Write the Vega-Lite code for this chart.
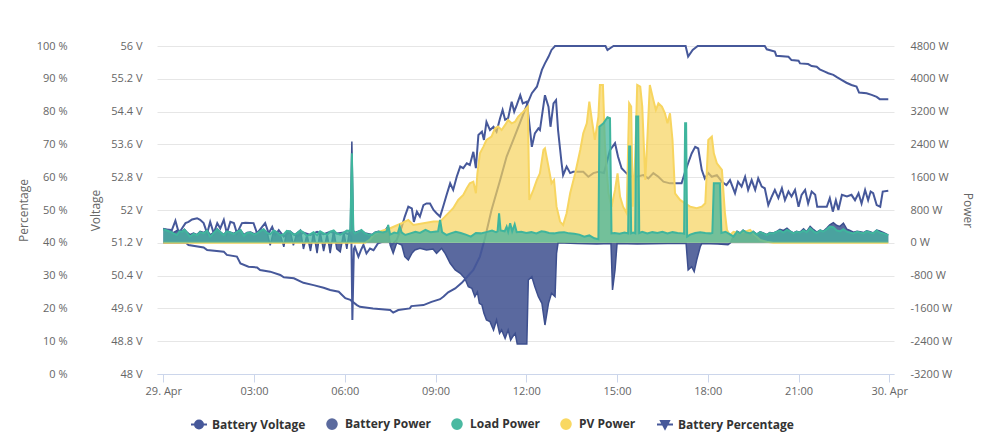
{
"$schema":"https://vega.github.io/schema/vega-lite/v6.json",
"width":737,"height":328,
"autosize":{"type":"none"},
"padding":{"left":157,"top":46,"right":87,"bottom":71},
"background":"white",
"config":{"view":{"stroke":null},"font":"Open Sans","axis":{"labelFont":"Open Sans","labelFontSize":11,"labelColor":"#666666","titleFont":"Open Sans","titleFontSize":12,"titleFontWeight":"normal","titleColor":"#666666","grid":false,"domain":false,"ticks":false,"tickSize":0}},
"datasets":{
"volt":[
{"t":"2024-04-29T00:00","v":51.53},{"t":"2024-04-29T00:17","v":51.51},{"t":"2024-04-29T00:24","v":51.74},{"t":"2024-04-29T00:31","v":51.43},{"t":"2024-04-29T00:37","v":51.55},{"t":"2024-04-29T00:44","v":51.68},{"t":"2024-04-29T00:50","v":51.71},{"t":"2024-04-29T00:57","v":51.77},{"t":"2024-04-29T01:07","v":51.80},{"t":"2024-04-29T01:13","v":51.76},{"t":"2024-04-29T01:20","v":51.68},{"t":"2024-04-29T01:27","v":51.43},{"t":"2024-04-29T01:33","v":51.71},{"t":"2024-04-29T01:40","v":51.43},{"t":"2024-04-29T01:47","v":51.68},{"t":"2024-04-29T01:53","v":51.55},{"t":"2024-04-29T02:00","v":51.76},{"t":"2024-04-29T02:06","v":51.43},{"t":"2024-04-29T02:13","v":51.71},{"t":"2024-04-29T02:20","v":51.68},{"t":"2024-04-29T02:26","v":51.43},{"t":"2024-04-29T02:36","v":51.68},{"t":"2024-04-29T02:43","v":51.69},{"t":"2024-04-29T02:59","v":51.68},{"t":"2024-04-29T03:06","v":51.43},{"t":"2024-04-29T03:16","v":51.59},{"t":"2024-04-29T03:22","v":51.68},{"t":"2024-04-29T03:29","v":51.43},{"t":"2024-04-29T03:36","v":51.59},{"t":"2024-04-29T03:42","v":51.39},{"t":"2024-04-29T03:49","v":51.51},{"t":"2024-04-29T03:59","v":51.35},{"t":"2024-04-29T04:12","v":51.47},{"t":"2024-04-29T04:25","v":51.35},{"t":"2024-04-29T04:38","v":51.45},{"t":"2024-04-29T04:52","v":51.39},{"t":"2024-04-29T05:05","v":51.47},{"t":"2024-04-29T05:18","v":51.41},{"t":"2024-04-29T05:31","v":51.47},{"t":"2024-04-29T05:44","v":51.43},{"t":"2024-04-29T05:58","v":51.45},{"t":"2024-04-29T06:08","v":51.41},{"t":"2024-04-29T06:13","v":51.35},{"t":"2024-04-29T06:15","v":49.32},{"t":"2024-04-29T06:18","v":51.05},{"t":"2024-04-29T06:20","v":51.10},{"t":"2024-04-29T06:27","v":50.86},{"t":"2024-04-29T06:32","v":51.02},{"t":"2024-04-29T06:37","v":51.15},{"t":"2024-04-29T06:43","v":50.94},{"t":"2024-04-29T06:50","v":51.06},{"t":"2024-04-29T06:57","v":51.02},{"t":"2024-04-29T07:06","v":51.19},{"t":"2024-04-29T07:16","v":51.23},{"t":"2024-04-29T07:26","v":51.27},{"t":"2024-04-29T07:33","v":51.15},{"t":"2024-04-29T07:43","v":51.27},{"t":"2024-04-29T07:53","v":51.59},{"t":"2024-04-29T07:59","v":51.84},{"t":"2024-04-29T08:06","v":52.08},{"t":"2024-04-29T08:13","v":52.04},{"t":"2024-04-29T08:17","v":51.71},{"t":"2024-04-29T08:23","v":51.96},{"t":"2024-04-29T08:29","v":51.84},{"t":"2024-04-29T08:36","v":52.12},{"t":"2024-04-29T08:42","v":52.16},{"t":"2024-04-29T08:49","v":52.16},{"t":"2024-04-29T08:56","v":52.00},{"t":"2024-04-29T09:02","v":51.92},{"t":"2024-04-29T09:09","v":51.84},{"t":"2024-04-29T09:15","v":52.08},{"t":"2024-04-29T09:22","v":52.37},{"t":"2024-04-29T09:29","v":52.65},{"t":"2024-04-29T09:35","v":52.49},{"t":"2024-04-29T09:42","v":52.81},{"t":"2024-04-29T09:49","v":53.06},{"t":"2024-04-29T09:55","v":53.02},{"t":"2024-04-29T10:02","v":53.14},{"t":"2024-04-29T10:08","v":53.10},{"t":"2024-04-29T10:15","v":53.42},{"t":"2024-04-29T10:20","v":53.02},{"t":"2024-04-29T10:25","v":53.83},{"t":"2024-04-29T10:32","v":53.91},{"t":"2024-04-29T10:36","v":53.71},{"t":"2024-04-29T10:41","v":54.15},{"t":"2024-04-29T10:48","v":53.95},{"t":"2024-04-29T10:55","v":54.03},{"t":"2024-04-29T11:01","v":53.91},{"t":"2024-04-29T11:08","v":54.24},{"t":"2024-04-29T11:13","v":54.44},{"t":"2024-04-29T11:18","v":54.20},{"t":"2024-04-29T11:24","v":54.24},{"t":"2024-04-29T11:31","v":54.64},{"t":"2024-04-29T11:36","v":54.40},{"t":"2024-04-29T11:41","v":54.56},{"t":"2024-04-29T11:48","v":54.80},{"t":"2024-04-29T11:53","v":54.60},{"t":"2024-04-29T12:01","v":54.64},{"t":"2024-04-29T12:06","v":54.11},{"t":"2024-04-29T12:11","v":53.54},{"t":"2024-04-29T12:17","v":53.87},{"t":"2024-04-29T12:24","v":53.99},{"t":"2024-04-29T12:27","v":53.95},{"t":"2024-04-29T12:37","v":54.80},{"t":"2024-04-29T12:44","v":54.52},{"t":"2024-04-29T12:48","v":54.03},{"t":"2024-04-29T12:54","v":54.60},{"t":"2024-04-29T12:59","v":54.68},{"t":"2024-04-29T13:03","v":53.95},{"t":"2024-04-29T13:10","v":53.14},{"t":"2024-04-29T13:13","v":52.85},{"t":"2024-04-29T13:20","v":53.06},{"t":"2024-04-29T13:27","v":52.90},{"t":"2024-04-29T13:33","v":52.93},{"t":"2024-04-29T13:40","v":52.93},{"t":"2024-04-29T13:53","v":52.93},{"t":"2024-04-29T14:03","v":52.81},{"t":"2024-04-29T14:13","v":52.90},{"t":"2024-04-29T14:23","v":52.93},{"t":"2024-04-29T14:34","v":52.90},{"t":"2024-04-29T14:46","v":53.46},{"t":"2024-04-29T14:56","v":53.63},{"t":"2024-04-29T15:02","v":53.30},{"t":"2024-04-29T15:09","v":53.02},{"t":"2024-04-29T15:16","v":52.93},{"t":"2024-04-29T15:26","v":52.81},{"t":"2024-04-29T15:39","v":52.81},{"t":"2024-04-29T15:52","v":52.85},{"t":"2024-04-29T16:02","v":52.77},{"t":"2024-04-29T16:12","v":52.90},{"t":"2024-04-29T16:22","v":52.81},{"t":"2024-04-29T16:32","v":52.69},{"t":"2024-04-29T16:45","v":52.65},{"t":"2024-04-29T16:58","v":52.65},{"t":"2024-04-29T17:08","v":52.65},{"t":"2024-04-29T17:15","v":52.93},{"t":"2024-04-29T17:21","v":53.14},{"t":"2024-04-29T17:28","v":53.38},{"t":"2024-04-29T17:35","v":53.54},{"t":"2024-04-29T17:41","v":53.50},{"t":"2024-04-29T17:48","v":52.98},{"t":"2024-04-29T17:54","v":52.77},{"t":"2024-04-29T18:01","v":52.90},{"t":"2024-04-29T18:08","v":52.81},{"t":"2024-04-29T18:18","v":52.85},{"t":"2024-04-29T18:28","v":52.69},{"t":"2024-04-29T18:37","v":52.61},{"t":"2024-04-29T18:44","v":52.73},{"t":"2024-04-29T18:54","v":52.41},{"t":"2024-04-29T19:00","v":52.69},{"t":"2024-04-29T19:07","v":52.57},{"t":"2024-04-29T19:14","v":52.81},{"t":"2024-04-29T19:20","v":52.49},{"t":"2024-04-29T19:27","v":52.73},{"t":"2024-04-29T19:34","v":52.49},{"t":"2024-04-29T19:40","v":52.77},{"t":"2024-04-29T19:47","v":52.57},{"t":"2024-04-29T19:53","v":52.53},{"t":"2024-04-29T20:00","v":52.12},{"t":"2024-04-29T20:07","v":52.33},{"t":"2024-04-29T20:13","v":52.49},{"t":"2024-04-29T20:20","v":52.29},{"t":"2024-04-29T20:27","v":52.53},{"t":"2024-04-29T20:33","v":52.24},{"t":"2024-04-29T20:40","v":52.45},{"t":"2024-04-29T20:46","v":52.33},{"t":"2024-04-29T20:53","v":52.49},{"t":"2024-04-29T21:00","v":52.08},{"t":"2024-04-29T21:06","v":52.37},{"t":"2024-04-29T21:13","v":52.49},{"t":"2024-04-29T21:19","v":52.16},{"t":"2024-04-29T21:26","v":52.45},{"t":"2024-04-29T21:33","v":52.37},{"t":"2024-04-29T21:37","v":52.08},{"t":"2024-04-29T21:56","v":52.08},{"t":"2024-04-29T22:02","v":52.29},{"t":"2024-04-29T22:08","v":51.96},{"t":"2024-04-29T22:14","v":52.24},{"t":"2024-04-29T22:19","v":52.00},{"t":"2024-04-29T22:26","v":52.37},{"t":"2024-04-29T22:36","v":52.33},{"t":"2024-04-29T22:45","v":52.37},{"t":"2024-04-29T22:52","v":52.24},{"t":"2024-04-29T22:59","v":52.41},{"t":"2024-04-29T23:05","v":52.16},{"t":"2024-04-29T23:12","v":52.49},{"t":"2024-04-29T23:18","v":52.24},{"t":"2024-04-29T23:23","v":52.45},{"t":"2024-04-29T23:28","v":52.41},{"t":"2024-04-29T23:35","v":52.12},{"t":"2024-04-29T23:42","v":52.08},{"t":"2024-04-29T23:47","v":52.45},{"t":"2024-04-29T23:58","v":52.47}
],
"pct":[
{"t":"2024-04-29T00:00","v":40},{"t":"2024-04-29T00:45","v":40},{"t":"2024-04-29T00:50","v":39.3},{"t":"2024-04-29T01:20","v":38.6},{"t":"2024-04-29T01:27","v":37.8},{"t":"2024-04-29T02:00","v":37.3},{"t":"2024-04-29T02:06","v":36.3},{"t":"2024-04-29T02:26","v":35.8},{"t":"2024-04-29T02:33","v":33.7},{"t":"2024-04-29T02:49","v":32.7},{"t":"2024-04-29T03:06","v":32.5},{"t":"2024-04-29T03:12","v":31.7},{"t":"2024-04-29T03:32","v":31.2},{"t":"2024-04-29T03:52","v":30.2},{"t":"2024-04-29T03:59","v":29.5},{"t":"2024-04-29T04:19","v":29.2},{"t":"2024-04-29T04:38","v":27.8},{"t":"2024-04-29T04:58","v":27.1},{"t":"2024-04-29T05:18","v":26.3},{"t":"2024-04-29T05:31","v":25.6},{"t":"2024-04-29T05:48","v":25.1},{"t":"2024-04-29T06:01","v":23.1},{"t":"2024-04-29T06:11","v":22.6},{"t":"2024-04-29T06:24","v":21},{"t":"2024-04-29T06:30","v":20.5},{"t":"2024-04-29T06:56","v":20},{"t":"2024-04-29T07:30","v":19.5},{"t":"2024-04-29T07:36","v":18.7},{"t":"2024-04-29T07:46","v":19.5},{"t":"2024-04-29T08:09","v":20},{"t":"2024-04-29T08:12","v":20.7},{"t":"2024-04-29T08:36","v":21},{"t":"2024-04-29T08:52","v":22},{"t":"2024-04-29T09:09","v":22.8},{"t":"2024-04-29T09:16","v":23.6},{"t":"2024-04-29T09:25","v":24.9},{"t":"2024-04-29T09:39","v":26.1},{"t":"2024-04-29T09:52","v":27.8},{"t":"2024-04-29T10:02","v":29.5},{"t":"2024-04-29T10:15","v":31.7},{"t":"2024-04-29T10:28","v":35.8},{"t":"2024-04-29T10:38","v":41.4},{"t":"2024-04-29T10:51","v":50},{"t":"2024-04-29T11:08","v":59.1},{"t":"2024-04-29T11:21","v":66.3},{"t":"2024-04-29T11:34","v":71.3},{"t":"2024-04-29T11:47","v":76.4},{"t":"2024-04-29T12:01","v":82},{"t":"2024-04-29T12:11","v":85.6},{"t":"2024-04-29T12:21","v":87.6},{"t":"2024-04-29T12:31","v":92.7},{"t":"2024-04-29T12:37","v":94.7},{"t":"2024-04-29T12:44","v":96.7},{"t":"2024-04-29T12:50","v":98.8},{"t":"2024-04-29T12:57","v":100},{"t":"2024-04-29T14:37","v":100},{"t":"2024-04-29T14:41","v":98.8},{"t":"2024-04-29T14:47","v":99.4},{"t":"2024-04-29T14:53","v":100},{"t":"2024-04-29T17:16","v":100},{"t":"2024-04-29T17:21","v":96.8},{"t":"2024-04-29T17:30","v":98.8},{"t":"2024-04-29T17:40","v":100},{"t":"2024-04-29T19:53","v":100},{"t":"2024-04-29T19:57","v":99},{"t":"2024-04-29T20:13","v":98.3},{"t":"2024-04-29T20:16","v":97},{"t":"2024-04-29T20:40","v":96.7},{"t":"2024-04-29T20:46","v":95.7},{"t":"2024-04-29T21:00","v":95.5},{"t":"2024-04-29T21:03","v":94.7},{"t":"2024-04-29T21:19","v":94.5},{"t":"2024-04-29T21:26","v":93.9},{"t":"2024-04-29T21:36","v":93.7},{"t":"2024-04-29T21:42","v":92.9},{"t":"2024-04-29T21:52","v":92.2},{"t":"2024-04-29T21:59","v":91.7},{"t":"2024-04-29T22:09","v":91.2},{"t":"2024-04-29T22:16","v":90.5},{"t":"2024-04-29T22:26","v":89.6},{"t":"2024-04-29T22:35","v":88.8},{"t":"2024-04-29T22:45","v":88.1},{"t":"2024-04-29T22:55","v":87.6},{"t":"2024-04-29T23:00","v":85.8},{"t":"2024-04-29T23:15","v":85.6},{"t":"2024-04-29T23:25","v":85.1},{"t":"2024-04-29T23:35","v":84.5},{"t":"2024-04-29T23:41","v":83.8},{"t":"2024-04-29T23:58","v":83.8}
],
"batt":[
{"t":"2024-04-29T00:00","v":350},{"t":"2024-04-29T00:07","v":320},{"t":"2024-04-29T00:14","v":280},{"t":"2024-04-29T00:20","v":250},{"t":"2024-04-29T00:27","v":300},{"t":"2024-04-29T00:32","v":300},{"t":"2024-04-29T00:37","v":280},{"t":"2024-04-29T00:42","v":330},{"t":"2024-04-29T00:47","v":260},{"t":"2024-04-29T00:53","v":200},{"t":"2024-04-29T01:00","v":240},{"t":"2024-04-29T01:07","v":200},{"t":"2024-04-29T01:13","v":280},{"t":"2024-04-29T01:20","v":250},{"t":"2024-04-29T01:27","v":310},{"t":"2024-04-29T01:33","v":200},{"t":"2024-04-29T01:40","v":250},{"t":"2024-04-29T01:47","v":340},{"t":"2024-04-29T01:53","v":270},{"t":"2024-04-29T02:00","v":200},{"t":"2024-04-29T02:06","v":290},{"t":"2024-04-29T02:13","v":260},{"t":"2024-04-29T02:20","v":230},{"t":"2024-04-29T02:26","v":280},{"t":"2024-04-29T02:33","v":320},{"t":"2024-04-29T02:40","v":200},{"t":"2024-04-29T02:46","v":250},{"t":"2024-04-29T02:53","v":260},{"t":"2024-04-29T03:00","v":220},{"t":"2024-04-29T03:06","v":240},{"t":"2024-04-29T03:13","v":300},{"t":"2024-04-29T03:19","v":330},{"t":"2024-04-29T03:26","v":250},{"t":"2024-04-29T03:32","v":-60},{"t":"2024-04-29T03:39","v":300},{"t":"2024-04-29T03:46","v":260},{"t":"2024-04-29T03:52","v":200},{"t":"2024-04-29T03:59","v":-100},{"t":"2024-04-29T04:05","v":290},{"t":"2024-04-29T04:12","v":280},{"t":"2024-04-29T04:18","v":-60},{"t":"2024-04-29T04:25","v":240},{"t":"2024-04-29T04:32","v":310},{"t":"2024-04-29T04:38","v":-150},{"t":"2024-04-29T04:45","v":200},{"t":"2024-04-29T04:52","v":-200},{"t":"2024-04-29T04:58","v":260},{"t":"2024-04-29T05:05","v":-250},{"t":"2024-04-29T05:11","v":280},{"t":"2024-04-29T05:18","v":-200},{"t":"2024-04-29T05:25","v":210},{"t":"2024-04-29T05:31","v":-250},{"t":"2024-04-29T05:38","v":310},{"t":"2024-04-29T05:44","v":-150},{"t":"2024-04-29T05:51","v":-220},{"t":"2024-04-29T05:58","v":260},{"t":"2024-04-29T06:04","v":-150},{"t":"2024-04-29T06:09","v":280},{"t":"2024-04-29T06:11","v":320},{"t":"2024-04-29T06:14","v":2468},{"t":"2024-04-29T06:17","v":300},{"t":"2024-04-29T06:20","v":250},{"t":"2024-04-29T06:27","v":280},{"t":"2024-04-29T06:33","v":300},{"t":"2024-04-29T06:40","v":240},{"t":"2024-04-29T06:47","v":220},{"t":"2024-04-29T06:54","v":200},{"t":"2024-04-29T07:00","v":260},{"t":"2024-04-29T07:07","v":280},{"t":"2024-04-29T07:16","v":250},{"t":"2024-04-29T07:26","v":400},{"t":"2024-04-29T07:30","v":-54},{"t":"2024-04-29T07:36","v":-257},{"t":"2024-04-29T07:43","v":0},{"t":"2024-04-29T07:53","v":-54},{"t":"2024-04-29T07:59","v":-339},{"t":"2024-04-29T08:06","v":-420},{"t":"2024-04-29T08:13","v":-257},{"t":"2024-04-29T08:19","v":-175},{"t":"2024-04-29T08:29","v":-135},{"t":"2024-04-29T08:42","v":-175},{"t":"2024-04-29T08:55","v":-150},{"t":"2024-04-29T09:02","v":-257},{"t":"2024-04-29T09:12","v":-135},{"t":"2024-04-29T09:19","v":-257},{"t":"2024-04-29T09:29","v":-500},{"t":"2024-04-29T09:39","v":-663},{"t":"2024-04-29T09:49","v":-744},{"t":"2024-04-29T09:58","v":-866},{"t":"2024-04-29T10:05","v":-1070},{"t":"2024-04-29T10:12","v":-1110},{"t":"2024-04-29T10:18","v":-1313},{"t":"2024-04-29T10:23","v":-1200},{"t":"2024-04-29T10:27","v":-1476},{"t":"2024-04-29T10:32","v":-1517},{"t":"2024-04-29T10:36","v":-1720},{"t":"2024-04-29T10:41","v":-1883},{"t":"2024-04-29T10:48","v":-1923},{"t":"2024-04-29T10:55","v":-2127},{"t":"2024-04-29T11:01","v":-1883},{"t":"2024-04-29T11:07","v":-2208},{"t":"2024-04-29T11:11","v":-2127},{"t":"2024-04-29T11:18","v":-2330},{"t":"2024-04-29T11:24","v":-2127},{"t":"2024-04-29T11:29","v":-2371},{"t":"2024-04-29T11:33","v":-2290},{"t":"2024-04-29T11:38","v":-2208},{"t":"2024-04-29T11:42","v":-2469},{"t":"2024-04-29T11:51","v":-2469},{"t":"2024-04-29T12:01","v":-2469},{"t":"2024-04-29T12:04","v":-908},{"t":"2024-04-29T12:11","v":-826},{"t":"2024-04-29T12:17","v":-1070},{"t":"2024-04-29T12:24","v":-1313},{"t":"2024-04-29T12:31","v":-1476},{"t":"2024-04-29T12:37","v":-2005},{"t":"2024-04-29T12:44","v":-1476},{"t":"2024-04-29T12:50","v":-1232},{"t":"2024-04-29T12:57","v":-1313},{"t":"2024-04-29T13:00","v":-257},{"t":"2024-04-29T13:03","v":0},{"t":"2024-04-29T13:40","v":-20},{"t":"2024-04-29T14:20","v":-30},{"t":"2024-04-29T14:48","v":-20},{"t":"2024-04-29T14:51","v":-1150},{"t":"2024-04-29T14:56","v":-663},{"t":"2024-04-29T15:00","v":-20},{"t":"2024-04-29T15:40","v":-30},{"t":"2024-04-29T16:40","v":-20},{"t":"2024-04-29T17:17","v":-20},{"t":"2024-04-29T17:21","v":-663},{"t":"2024-04-29T17:28","v":-583},{"t":"2024-04-29T17:33","v":-703},{"t":"2024-04-29T17:38","v":-420},{"t":"2024-04-29T17:45","v":-95},{"t":"2024-04-29T17:48","v":-20},{"t":"2024-04-29T18:20","v":-30},{"t":"2024-04-29T18:40","v":-50},{"t":"2024-04-29T18:45","v":0},{"t":"2024-04-29T18:50","v":150},{"t":"2024-04-29T18:58","v":280},{"t":"2024-04-29T19:04","v":240},{"t":"2024-04-29T19:10","v":310},{"t":"2024-04-29T19:17","v":260},{"t":"2024-04-29T19:24","v":240},{"t":"2024-04-29T19:30","v":280},{"t":"2024-04-29T19:37","v":210},{"t":"2024-04-29T19:44","v":270},{"t":"2024-04-29T19:50","v":240},{"t":"2024-04-29T19:57","v":200},{"t":"2024-04-29T20:03","v":250},{"t":"2024-04-29T20:10","v":240},{"t":"2024-04-29T20:17","v":280},{"t":"2024-04-29T20:23","v":330},{"t":"2024-04-29T20:30","v":300},{"t":"2024-04-29T20:37","v":355},{"t":"2024-04-29T20:43","v":290},{"t":"2024-04-29T20:50","v":240},{"t":"2024-04-29T20:56","v":280},{"t":"2024-04-29T21:03","v":260},{"t":"2024-04-29T21:10","v":340},{"t":"2024-04-29T21:16","v":270},{"t":"2024-04-29T21:23","v":400},{"t":"2024-04-29T21:30","v":320},{"t":"2024-04-29T21:36","v":260},{"t":"2024-04-29T21:43","v":310},{"t":"2024-04-29T21:49","v":280},{"t":"2024-04-29T21:56","v":360},{"t":"2024-04-29T22:02","v":436},{"t":"2024-04-29T22:09","v":493},{"t":"2024-04-29T22:16","v":420},{"t":"2024-04-29T22:22","v":400},{"t":"2024-04-29T22:29","v":477},{"t":"2024-04-29T22:36","v":330},{"t":"2024-04-29T22:42","v":300},{"t":"2024-04-29T22:49","v":260},{"t":"2024-04-29T22:56","v":280},{"t":"2024-04-29T23:02","v":270},{"t":"2024-04-29T23:09","v":250},{"t":"2024-04-29T23:15","v":290},{"t":"2024-04-29T23:22","v":270},{"t":"2024-04-29T23:28","v":240},{"t":"2024-04-29T23:35","v":310},{"t":"2024-04-29T23:41","v":290},{"t":"2024-04-29T23:48","v":250},{"t":"2024-04-29T23:55","v":210},{"t":"2024-04-29T23:58","v":200}
],
"load":[
{"t":"2024-04-29T00:00","v":330},{"t":"2024-04-29T00:07","v":300},{"t":"2024-04-29T00:14","v":270},{"t":"2024-04-29T00:20","v":230},{"t":"2024-04-29T00:27","v":190},{"t":"2024-04-29T00:32","v":280},{"t":"2024-04-29T00:37","v":270},{"t":"2024-04-29T00:42","v":320},{"t":"2024-04-29T00:47","v":250},{"t":"2024-04-29T00:53","v":150},{"t":"2024-04-29T01:00","v":220},{"t":"2024-04-29T01:07","v":190},{"t":"2024-04-29T01:13","v":260},{"t":"2024-04-29T01:20","v":230},{"t":"2024-04-29T01:27","v":300},{"t":"2024-04-29T01:33","v":150},{"t":"2024-04-29T01:40","v":240},{"t":"2024-04-29T01:47","v":330},{"t":"2024-04-29T01:53","v":260},{"t":"2024-04-29T02:00","v":190},{"t":"2024-04-29T02:06","v":280},{"t":"2024-04-29T02:13","v":250},{"t":"2024-04-29T02:20","v":210},{"t":"2024-04-29T02:26","v":270},{"t":"2024-04-29T02:33","v":310},{"t":"2024-04-29T02:40","v":170},{"t":"2024-04-29T02:46","v":240},{"t":"2024-04-29T02:53","v":250},{"t":"2024-04-29T03:00","v":200},{"t":"2024-04-29T03:06","v":230},{"t":"2024-04-29T03:13","v":290},{"t":"2024-04-29T03:19","v":330},{"t":"2024-04-29T03:26","v":240},{"t":"2024-04-29T03:32","v":210},{"t":"2024-04-29T03:39","v":300},{"t":"2024-04-29T03:46","v":250},{"t":"2024-04-29T03:52","v":180},{"t":"2024-04-29T03:59","v":210},{"t":"2024-04-29T04:05","v":290},{"t":"2024-04-29T04:12","v":270},{"t":"2024-04-29T04:18","v":200},{"t":"2024-04-29T04:25","v":230},{"t":"2024-04-29T04:32","v":300},{"t":"2024-04-29T04:38","v":250},{"t":"2024-04-29T04:45","v":170},{"t":"2024-04-29T04:52","v":210},{"t":"2024-04-29T04:58","v":260},{"t":"2024-04-29T05:05","v":190},{"t":"2024-04-29T05:11","v":280},{"t":"2024-04-29T05:18","v":230},{"t":"2024-04-29T05:25","v":200},{"t":"2024-04-29T05:31","v":270},{"t":"2024-04-29T05:38","v":300},{"t":"2024-04-29T05:44","v":230},{"t":"2024-04-29T05:51","v":200},{"t":"2024-04-29T05:58","v":250},{"t":"2024-04-29T06:04","v":300},{"t":"2024-04-29T06:11","v":290},{"t":"2024-04-29T06:14","v":2183},{"t":"2024-04-29T06:17","v":290},{"t":"2024-04-29T06:20","v":230},{"t":"2024-04-29T06:27","v":270},{"t":"2024-04-29T06:33","v":314},{"t":"2024-04-29T06:40","v":230},{"t":"2024-04-29T06:47","v":200},{"t":"2024-04-29T06:54","v":190},{"t":"2024-04-29T07:00","v":250},{"t":"2024-04-29T07:07","v":270},{"t":"2024-04-29T07:16","v":250},{"t":"2024-04-29T07:23","v":280},{"t":"2024-04-29T07:26","v":436},{"t":"2024-04-29T07:30","v":200},{"t":"2024-04-29T07:38","v":250},{"t":"2024-04-29T07:45","v":230},{"t":"2024-04-29T07:49","v":395},{"t":"2024-04-29T07:53","v":250},{"t":"2024-04-29T08:00","v":190},{"t":"2024-04-29T08:10","v":230},{"t":"2024-04-29T08:20","v":270},{"t":"2024-04-29T08:29","v":240},{"t":"2024-04-29T08:40","v":314},{"t":"2024-04-29T08:50","v":260},{"t":"2024-04-29T09:05","v":280},{"t":"2024-04-29T09:09","v":558},{"t":"2024-04-29T09:13","v":260},{"t":"2024-04-29T09:22","v":190},{"t":"2024-04-29T09:30","v":230},{"t":"2024-04-29T09:40","v":270},{"t":"2024-04-29T09:50","v":240},{"t":"2024-04-29T10:00","v":200},{"t":"2024-04-29T10:10","v":150},{"t":"2024-04-29T10:20","v":240},{"t":"2024-04-29T10:30","v":230},{"t":"2024-04-29T10:40","v":260},{"t":"2024-04-29T10:52","v":300},{"t":"2024-04-29T11:00","v":260},{"t":"2024-04-29T11:03","v":280},{"t":"2024-04-29T11:06","v":721},{"t":"2024-04-29T11:09","v":300},{"t":"2024-04-29T11:17","v":280},{"t":"2024-04-29T11:21","v":395},{"t":"2024-04-29T11:24","v":270},{"t":"2024-04-29T11:28","v":477},{"t":"2024-04-29T11:32","v":280},{"t":"2024-04-29T11:37","v":450},{"t":"2024-04-29T11:41","v":260},{"t":"2024-04-29T11:50","v":270},{"t":"2024-04-29T12:00","v":240},{"t":"2024-04-29T12:10","v":260},{"t":"2024-04-29T12:20","v":230},{"t":"2024-04-29T12:30","v":280},{"t":"2024-04-29T12:37","v":270},{"t":"2024-04-29T12:45","v":240},{"t":"2024-04-29T12:55","v":230},{"t":"2024-04-29T13:05","v":250},{"t":"2024-04-29T13:15","v":260},{"t":"2024-04-29T13:25","v":230},{"t":"2024-04-29T13:35","v":220},{"t":"2024-04-29T13:45","v":200},{"t":"2024-04-29T13:55","v":150},{"t":"2024-04-29T14:05","v":180},{"t":"2024-04-29T14:15","v":110},{"t":"2024-04-29T14:23","v":85},{"t":"2024-04-29T14:25","v":2834},{"t":"2024-04-29T14:33","v":2915},{"t":"2024-04-29T14:41","v":3061},{"t":"2024-04-29T14:46","v":3037},{"t":"2024-04-29T14:49","v":230},{"t":"2024-04-29T14:55","v":240},{"t":"2024-04-29T15:05","v":220},{"t":"2024-04-29T15:15","v":250},{"t":"2024-04-29T15:22","v":230},{"t":"2024-04-29T15:24","v":2346},{"t":"2024-04-29T15:26","v":2346},{"t":"2024-04-29T15:28","v":230},{"t":"2024-04-29T15:32","v":250},{"t":"2024-04-29T15:36","v":230},{"t":"2024-04-29T15:38","v":3078},{"t":"2024-04-29T15:42","v":3078},{"t":"2024-04-29T15:44","v":240},{"t":"2024-04-29T15:50","v":270},{"t":"2024-04-29T16:00","v":230},{"t":"2024-04-29T16:10","v":260},{"t":"2024-04-29T16:20","v":240},{"t":"2024-04-29T16:30","v":270},{"t":"2024-04-29T16:40","v":230},{"t":"2024-04-29T16:50","v":260},{"t":"2024-04-29T17:00","v":240},{"t":"2024-04-29T17:10","v":230},{"t":"2024-04-29T17:13","v":220},{"t":"2024-04-29T17:15","v":2915},{"t":"2024-04-29T17:17","v":2915},{"t":"2024-04-29T17:19","v":150},{"t":"2024-04-29T17:25","v":200},{"t":"2024-04-29T17:35","v":240},{"t":"2024-04-29T17:45","v":260},{"t":"2024-04-29T17:55","v":240},{"t":"2024-04-29T18:05","v":230},{"t":"2024-04-29T18:09","v":240},{"t":"2024-04-29T18:12","v":1452},{"t":"2024-04-29T18:24","v":1452},{"t":"2024-04-29T18:27","v":240},{"t":"2024-04-29T18:35","v":270},{"t":"2024-04-29T18:45","v":200},{"t":"2024-04-29T18:51","v":150},{"t":"2024-04-29T18:58","v":270},{"t":"2024-04-29T19:04","v":230},{"t":"2024-04-29T19:10","v":300},{"t":"2024-04-29T19:17","v":250},{"t":"2024-04-29T19:24","v":230},{"t":"2024-04-29T19:30","v":270},{"t":"2024-04-29T19:37","v":200},{"t":"2024-04-29T19:44","v":260},{"t":"2024-04-29T19:50","v":230},{"t":"2024-04-29T19:57","v":190},{"t":"2024-04-29T20:03","v":240},{"t":"2024-04-29T20:10","v":230},{"t":"2024-04-29T20:17","v":270},{"t":"2024-04-29T20:23","v":300},{"t":"2024-04-29T20:30","v":250},{"t":"2024-04-29T20:37","v":314},{"t":"2024-04-29T20:43","v":280},{"t":"2024-04-29T20:50","v":230},{"t":"2024-04-29T20:56","v":270},{"t":"2024-04-29T21:03","v":250},{"t":"2024-04-29T21:10","v":300},{"t":"2024-04-29T21:16","v":260},{"t":"2024-04-29T21:23","v":355},{"t":"2024-04-29T21:30","v":280},{"t":"2024-04-29T21:36","v":240},{"t":"2024-04-29T21:43","v":300},{"t":"2024-04-29T21:49","v":270},{"t":"2024-04-29T21:56","v":330},{"t":"2024-04-29T22:02","v":395},{"t":"2024-04-29T22:09","v":380},{"t":"2024-04-29T22:16","v":300},{"t":"2024-04-29T22:22","v":280},{"t":"2024-04-29T22:29","v":330},{"t":"2024-04-29T22:36","v":270},{"t":"2024-04-29T22:42","v":250},{"t":"2024-04-29T22:49","v":230},{"t":"2024-04-29T22:56","v":270},{"t":"2024-04-29T23:02","v":250},{"t":"2024-04-29T23:09","v":230},{"t":"2024-04-29T23:15","v":280},{"t":"2024-04-29T23:22","v":250},{"t":"2024-04-29T23:28","v":230},{"t":"2024-04-29T23:35","v":300},{"t":"2024-04-29T23:41","v":250},{"t":"2024-04-29T23:48","v":230},{"t":"2024-04-29T23:55","v":200},{"t":"2024-04-29T23:58","v":190}
],
"pv":[
{"t":"2024-04-29T00:00","v":0},{"t":"2024-04-29T06:40","v":0},{"t":"2024-04-29T06:50","v":80},{"t":"2024-04-29T06:57","v":200},{"t":"2024-04-29T07:10","v":280},{"t":"2024-04-29T07:30","v":355},{"t":"2024-04-29T07:53","v":477},{"t":"2024-04-29T08:06","v":558},{"t":"2024-04-29T08:16","v":436},{"t":"2024-04-29T08:36","v":477},{"t":"2024-04-29T08:56","v":517},{"t":"2024-04-29T09:09","v":517},{"t":"2024-04-29T09:22","v":680},{"t":"2024-04-29T09:35","v":843},{"t":"2024-04-29T09:45","v":1045},{"t":"2024-04-29T09:55","v":1168},{"t":"2024-04-29T10:02","v":1330},{"t":"2024-04-29T10:08","v":1452},{"t":"2024-04-29T10:15","v":1493},{"t":"2024-04-29T10:20","v":1208},{"t":"2024-04-29T10:23","v":1695},{"t":"2024-04-29T10:28","v":2183},{"t":"2024-04-29T10:35","v":2346},{"t":"2024-04-29T10:41","v":2508},{"t":"2024-04-29T10:51","v":2590},{"t":"2024-04-29T10:58","v":2793},{"t":"2024-04-29T11:04","v":2834},{"t":"2024-04-29T11:11","v":2752},{"t":"2024-04-29T11:18","v":2875},{"t":"2024-04-29T11:24","v":2997},{"t":"2024-04-29T11:31","v":2915},{"t":"2024-04-29T11:38","v":2956},{"t":"2024-04-29T11:44","v":3078},{"t":"2024-04-29T11:54","v":3200},{"t":"2024-04-29T12:03","v":3322},{"t":"2024-04-29T12:06","v":1045},{"t":"2024-04-29T12:14","v":1290},{"t":"2024-04-29T12:21","v":1532},{"t":"2024-04-29T12:27","v":1695},{"t":"2024-04-29T12:34","v":2264},{"t":"2024-04-29T12:37","v":2305},{"t":"2024-04-29T12:44","v":1857},{"t":"2024-04-29T12:50","v":1452},{"t":"2024-04-29T12:55","v":1532},{"t":"2024-04-29T13:00","v":881},{"t":"2024-04-29T13:07","v":517},{"t":"2024-04-29T13:13","v":436},{"t":"2024-04-29T13:20","v":721},{"t":"2024-04-29T13:27","v":1208},{"t":"2024-04-29T13:37","v":1695},{"t":"2024-04-29T13:47","v":2264},{"t":"2024-04-29T13:53","v":2671},{"t":"2024-04-29T14:00","v":2915},{"t":"2024-04-29T14:05","v":3444},{"t":"2024-04-29T14:10","v":2997},{"t":"2024-04-29T14:16","v":2508},{"t":"2024-04-29T14:23","v":3078},{"t":"2024-04-29T14:26","v":3849},{"t":"2024-04-29T14:32","v":3849},{"t":"2024-04-29T14:36","v":2400},{"t":"2024-04-29T14:43","v":1208},{"t":"2024-04-29T14:49","v":881},{"t":"2024-04-29T14:56","v":1290},{"t":"2024-04-29T15:01","v":1695},{"t":"2024-04-29T15:06","v":1127},{"t":"2024-04-29T15:12","v":881},{"t":"2024-04-29T15:19","v":721},{"t":"2024-04-29T15:24","v":3403},{"t":"2024-04-29T15:28","v":3322},{"t":"2024-04-29T15:31","v":881},{"t":"2024-04-29T15:36","v":2102},{"t":"2024-04-29T15:40","v":3849},{"t":"2024-04-29T15:46","v":3809},{"t":"2024-04-29T15:50","v":3322},{"t":"2024-04-29T15:56","v":1532},{"t":"2024-04-29T16:00","v":2508},{"t":"2024-04-29T16:05","v":3849},{"t":"2024-04-29T16:12","v":3483},{"t":"2024-04-29T16:17","v":3239},{"t":"2024-04-29T16:22","v":3403},{"t":"2024-04-29T16:29","v":3322},{"t":"2024-04-29T16:35","v":3159},{"t":"2024-04-29T16:40","v":2915},{"t":"2024-04-29T16:45","v":3159},{"t":"2024-04-29T16:50","v":2508},{"t":"2024-04-29T16:55","v":1208},{"t":"2024-04-29T17:05","v":1045},{"t":"2024-04-29T17:15","v":963},{"t":"2024-04-29T17:25","v":881},{"t":"2024-04-29T17:38","v":841},{"t":"2024-04-29T17:48","v":881},{"t":"2024-04-29T17:55","v":963},{"t":"2024-04-29T18:01","v":2508},{"t":"2024-04-29T18:08","v":2590},{"t":"2024-04-29T18:12","v":2183},{"t":"2024-04-29T18:18","v":1940},{"t":"2024-04-29T18:28","v":1777},{"t":"2024-04-29T18:34","v":721},{"t":"2024-04-29T18:38","v":314},{"t":"2024-04-29T18:44","v":190},{"t":"2024-04-29T18:51","v":270},{"t":"2024-04-29T19:04","v":230},{"t":"2024-04-29T19:24","v":314},{"t":"2024-04-29T19:30","v":230},{"t":"2024-04-29T19:44","v":68},{"t":"2024-04-29T19:57","v":27},{"t":"2024-04-29T20:10","v":0},{"t":"2024-04-29T23:58","v":0}
],
"leg":[{"s":"Battery Voltage"},{"s":"Battery Power"},{"s":"Load Power"},{"s":"PV Power"},{"s":"Battery Percentage"}]
},
"encoding":{"x":{"field":"t","type":"temporal","scale":{"domain":[{"year":2024,"month":4,"date":28,"hours":23,"minutes":47,"seconds":30},{"year":2024,"month":4,"date":30,"hours":0,"minutes":9,"seconds":20}]},"axis":{"title":null,"values":[{"year":2024,"month":4,"date":29,"hours":0},{"year":2024,"month":4,"date":29,"hours":3},{"year":2024,"month":4,"date":29,"hours":6},{"year":2024,"month":4,"date":29,"hours":9},{"year":2024,"month":4,"date":29,"hours":12},{"year":2024,"month":4,"date":29,"hours":15},{"year":2024,"month":4,"date":29,"hours":18},{"year":2024,"month":4,"date":29,"hours":21},{"year":2024,"month":4,"date":30,"hours":0}],"labelExpr":"hours(datum.value) == 0 ? timeFormat(datum.value, '%-d. %b') : timeFormat(datum.value, '%H:%M')","domain":true,"domainColor":"#ccd6eb","ticks":true,"tickColor":"#ccd6eb","tickSize":8,"labelPadding":3,"grid":false,"labelFlush":false,"labelOverlap":false}}},
"layer":[
{"data":{"name":"batt"},"mark":{"type":"area","color":"#3d4f8e","fillOpacity":0.85,"line":{"color":"#3d4f8e","strokeWidth":1.5}},"encoding":{"y":{"field":"v","type":"quantitative","scale":{"domain":[-3200,4800],"nice":false,"zero":false},"axis":null}}},
{"data":{"name":"pct"},"mark":{"type":"line","color":"#46589a","strokeWidth":2},"encoding":{"y":{"field":"v","type":"quantitative","scale":{"domain":[0,100],"nice":false,"zero":false},"axis":{"orient":"left","offset":75,"labelPadding":15,"values":[0,10,20,30,40,50,60,70,80,90,100],"labelExpr":"datum.value + ' %'","title":"Percentage","titleX":-59,"titleY":164,"titleBaseline":"middle"}}}},
{"data":{"name":"volt"},"mark":{"type":"line","color":"#46589a","strokeWidth":2},"encoding":{"y":{"field":"v","type":"quantitative","scale":{"domain":[48,56],"nice":false,"zero":false},"axis":{"orient":"left","offset":0,"labelPadding":15,"values":[48,48.8,49.6,50.4,51.2,52,52.8,53.6,54.4,55.2,56],"labelExpr":"format(datum.value, '.1~f') + ' V'","title":"Voltage","titleX":-62,"titleY":164,"titleBaseline":"middle"}}}},
{"data":{"name":"pv"},"mark":{"type":"area","color":"#f7d35c","fillOpacity":0.7,"line":{"color":"#f7d560","strokeWidth":2}},"encoding":{"y":{"field":"v","type":"quantitative","scale":{"domain":[-3200,4800],"nice":false,"zero":false},"axis":{"orient":"right","values":[-3200,-2400,-1600,-800,0,800,1600,2400,3200,4000,4800],"labelExpr":"datum.value + ' W'","labelPadding":16,"labelAlign":"left","grid":true,"gridColor":"#e6e6e6","gridWidth":1,"title":"Power","titleAngle":90,"titleX":73,"titleY":164,"titleBaseline":"middle"}}}},
{"data":{"name":"load"},"mark":{"type":"area","color":"#45b59f","fillOpacity":0.75,"line":{"color":"#3fb59d","strokeWidth":2}},"encoding":{"y":{"field":"v","type":"quantitative","scale":{"domain":[-3200,4800],"nice":false,"zero":false},"axis":null}}},
{"data":{"name":"leg"},"mark":{"type":"point","filled":true,"opacity":0},"encoding":{"color":{"field":"s","type":"nominal","scale":{"domain":["Battery Voltage","Battery Power","Load Power","PV Power","Battery Percentage"],"range":["#46589a","#5b6a9e","#4ab9a1","#f9d862","#46589a"]},"legend":{"title":null,"orient":"none","legendX":33,"legendY":369,"direction":"horizontal","columnPadding":17,"labelOffset":4,"symbolSize":256,"symbolOpacity":1,"symbolStrokeWidth":2,"labelFont":"Open Sans","labelFontSize":12,"labelFontWeight":"bold","labelColor":"#333333","padding":0,"encode":{"symbols":{"update":{"stroke":{"scale":"color","field":"value"},"strokeWidth":{"value":2},"opacity":{"value":1}}}}}},"shape":{"field":"s","type":"nominal","scale":{"domain":["Battery Voltage","Battery Power","Load Power","PV Power","Battery Percentage"],"range":["M-1,0L1,0M-0.5,0A0.5,0.5,0,1,0,0.5,0A0.5,0.5,0,1,0,-0.5,0Z","M-0.6,0A0.6,0.6,0,1,0,0.6,0A0.6,0.6,0,1,0,-0.6,0Z","M-0.6,0A0.6,0.6,0,1,0,0.6,0A0.6,0.6,0,1,0,-0.6,0Z","M-0.6,0A0.6,0.6,0,1,0,0.6,0A0.6,0.6,0,1,0,-0.6,0Z","M-1,0L1,0M-0.5,-0.45L0.5,-0.45L0,0.5Z"]}}}}
],
"resolve":{"scale":{"y":"independent"}}
}
